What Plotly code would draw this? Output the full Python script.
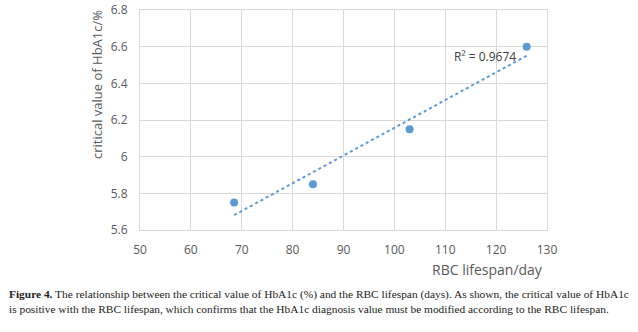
import numpy as np
import plotly.graph_objects as go

rbc_lifespan = [68.5, 84.0, 103.0, 126.0]
hba1c_critical = [5.75, 5.85, 6.15, 6.60]
x_ticks = [50, 60, 70, 80, 90, 100, 110, 120, 130]
y_ticks = [5.6, 5.8, 6.0, 6.2, 6.4, 6.6, 6.8]
y_tick_text = ["5.6", "5.8", "6", "6.2", "6.4", "6.6", "6.8"]

slope, intercept = np.polyfit(rbc_lifespan, hba1c_critical, 1)
tx = [min(rbc_lifespan), max(rbc_lifespan)]
ty = [slope * v + intercept for v in tx]

L, R, T, B = 140, 91, 10, 102
W, H = 638, 332
pw, ph = W - L - R, H - T - B


def px(x):
    return (x - L) / pw


def py(y):
    return 1 - (y - T) / ph


fig = go.Figure()
fig.add_trace(go.Scatter(x=tx, y=ty, mode="lines",
                         line=dict(color="#5b9bd5", width=2, dash="dot"),
                         hoverinfo="skip", showlegend=False))
fig.add_trace(go.Scatter(x=rbc_lifespan, y=hba1c_critical, mode="markers",
                         marker=dict(color="#5b9bd5", size=8),
                         showlegend=False))

sans = "Open Sans, Liberation Sans, sans-serif"
axis_font = dict(family=sans, size=12, color="#595959")
fig.update_layout(
    width=W, height=H,
    margin=dict(l=L, r=R, t=T, b=B),
    paper_bgcolor="white", plot_bgcolor="white",
    font=axis_font,
    xaxis=dict(range=[50, 130], tickvals=x_ticks, showgrid=True, gridcolor="#d9d9d9",
               gridwidth=1, zeroline=False, showline=True, linecolor="#d9d9d9",
               mirror=True, tickfont=axis_font, ticks="", ticklabelstandoff=9,
               automargin=False, fixedrange=True),
    yaxis=dict(range=[5.6, 6.8], tickvals=y_ticks, ticktext=y_tick_text, showgrid=True,
               gridcolor="#d9d9d9", gridwidth=1, zeroline=False, showline=True,
               linecolor="#d9d9d9", mirror=True, tickfont=axis_font, ticks="",
               ticklabelstandoff=9, automargin=False, fixedrange=True),
    annotations=[
        dict(text="critical value of HbA1c/%", textangle=-90, x=px(97), y=py(85),
             xref="paper", yref="paper", showarrow=False, xanchor="center", yanchor="middle",
             font=dict(family=sans, size=13, color="#595959")),
        dict(text="RBC lifespan/day", x=px(487), y=py(269), xref="paper", yref="paper",
             showarrow=False, xanchor="center", yanchor="middle",
             font=dict(family=sans, size=14, color="#595959")),
        dict(text="R² = 0.9674", x=117.8, y=6.545, xref="x", yref="y", showarrow=False,
             xanchor="center", yanchor="middle",
             font=dict(family=sans, size=12, color="#404040")),
        dict(text="<b>Figure 4.</b> The relationship between the critical value of HbA1c (%) and the RBC lifespan (days). As shown, the critical value of HbA1c<br>is positive with the RBC lifespan, which confirms that the HbA1c diagnosis value must be modified according to the RBC lifespan.",
             x=px(7), y=py(301), xref="paper", yref="paper", showarrow=False, align="left",
             xanchor="left", yanchor="middle",
             font=dict(family="Liberation Serif, serif", size=11.4, color="#222222")),
    ],
)

fig.write_html("out.html")
